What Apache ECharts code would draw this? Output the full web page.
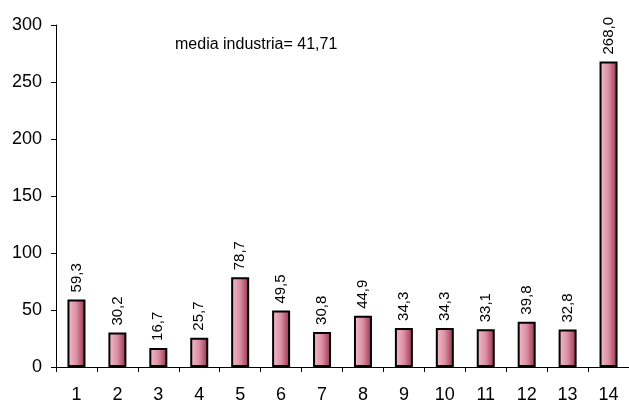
<!DOCTYPE html>
<html>
<head>
<meta charset="utf-8">
<script src="https://cdn.jsdelivr.net/npm/echarts@6/dist/echarts.min.js"></script>
<style>html,body{margin:0;padding:0;background:#fff;}#c{width:629px;height:401px;}</style>
</head>
<body>
<div id="c"></div>
<script>
const categories = ['1','2','3','4','5','6','7','8','9','10','11','12','13','14'];
const values = [59.3, 30.2, 16.7, 25.7, 78.7, 49.5, 30.8, 44.9, 34.3, 34.3, 33.1, 39.8, 32.8, 268.0];
const annotation = 'media industria= 41,71';
const yTicks = {min: 0, max: 300, interval: 50};

const chart = echarts.init(document.getElementById('c'), null, {renderer: 'canvas'});
const font = 'Liberation Sans, Arial, sans-serif';
chart.setOption({
  animation: false,
  backgroundColor: '#fff',
  grid: {left: 56, right: 0, top: 25, bottom: 34, containLabel: false, outerBoundsMode: 'none'},
  graphic: [{
    type: 'text', left: 175, top: 37,
    style: {text: annotation, font: '16px ' + font, fill: '#000'}
  }],
  xAxis: {
    type: 'category', data: categories,
    axisLine: {lineStyle: {color: '#000', width: 1}},
    axisTick: {show: true, length: 5, lineStyle: {color: '#000'}, alignWithLabel: false},
    axisLabel: {color: '#000', fontSize: 18, fontFamily: font, margin: 19, interval: 0},
    splitLine: {show: false}
  },
  yAxis: {
    type: 'value', min: yTicks.min, max: yTicks.max, interval: yTicks.interval,
    axisLine: {show: true, lineStyle: {color: '#000', width: 1}},
    axisTick: {show: true, length: 5, lineStyle: {color: '#000'}},
    axisLabel: {color: '#000', fontSize: 18, fontFamily: font, margin: 14},
    splitLine: {show: false}
  },
  series: [{
    type: 'bar', data: values, barWidth: 18,
    itemStyle: {
      borderColor: '#000', borderWidth: 2,
      color: new echarts.graphic.LinearGradient(0, 0, 1, 0, [
        {offset: 0, color: '#f2bfce'},
        {offset: 0.5, color: '#da8fa4'},
        {offset: 1, color: '#9a2a4c'}
      ])
    },
    label: {
      show: true, position: 'top', rotate: 90, distance: 7,
      align: 'left', verticalAlign: 'middle',
      color: '#000', fontSize: 15, fontFamily: font,
      formatter: p => p.value.toFixed(1).replace('.', ',')
    }
  }]
});
</script>
</body>
</html>
